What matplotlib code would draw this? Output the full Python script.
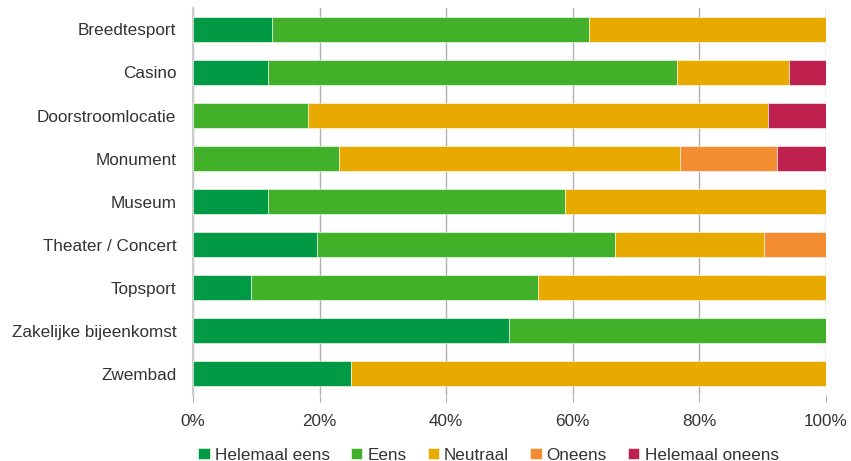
import numpy as np
import matplotlib.pyplot as plt

categories = ["Breedtesport", "Casino", "Doorstroomlocatie", "Monument", "Museum",
              "Theater / Concert", "Topsport", "Zakelijke bijeenkomst", "Zwembad"]
series = ["Helemaal eens", "Eens", "Neutraal", "Oneens", "Helemaal oneens"]
colors = ["#009a44", "#43b02a", "#e9aa00", "#f48d32", "#be214d"]

# percentages per category, in the order of series
helemaal_eens = [12.5, 11.8, 0.0, 0.0, 11.8, 19.6, 9.1, 50.0, 25.0]
eens = [50.0, 64.7, 18.2, 23.1, 47.0, 47.1, 45.4, 50.0, 0.0]
neutraal = [37.5, 17.6, 72.7, 53.8, 41.2, 23.5, 45.5, 0.0, 75.0]
oneens = [0.0, 0.0, 0.0, 15.4, 0.0, 9.8, 0.0, 0.0, 0.0]
helemaal_oneens = [0.0, 5.9, 9.1, 7.7, 0.0, 0.0, 0.0, 0.0, 0.0]

data = np.array([helemaal_eens, eens, neutraal, oneens, helemaal_oneens])

plt.rcParams['font.family'] = ['Liberation Sans', 'DejaVu Sans']
text_color = "#333333"
fs = 12.3

fig = plt.figure(figsize=(8.51, 4.61), dpi=100)
ax = fig.add_axes([193 / 851, 1 - 395 / 461, 633 / 851, 387 / 461])

y = np.arange(len(categories))
left = np.zeros(len(categories))
for vals, name, c in zip(data, series, colors):
    ax.barh(y, vals, left=left, height=0.56, color=c, label=name,
            edgecolor="#ffffff", linewidth=0.4, zorder=3)
    left += vals

ax.set_xlim(0, 100)
ax.set_ylim(len(categories) - 0.5, -0.5)
ax.set_yticks(y)
ax.set_yticklabels(categories, fontsize=fs, color=text_color)
ax.set_xticks(np.arange(0, 101, 20))
ax.set_xticklabels([f"{v}%" for v in range(0, 101, 20)], fontsize=fs, color=text_color)
ax.tick_params(axis="y", length=0, pad=12)
ax.tick_params(axis="x", length=5, color="#b0b0b0", pad=9)
ax.grid(axis="x", color="#b0b0b0", linewidth=1, zorder=0)
for s in ["top", "right", "bottom"]:
    ax.spines[s].set_visible(False)
ax.spines["left"].set_color("#cccccc")
ax.spines["left"].set_linewidth(1.5)

fig.legend(loc="center", bbox_to_anchor=(0.574, 1 - 455 / 461), ncol=5, frameon=False,
           fontsize=fs, handlelength=0.65, handleheight=0.65, handletextpad=0.3,
           columnspacing=1.25, labelcolor=text_color)

fig.savefig("out.png", dpi=100)
